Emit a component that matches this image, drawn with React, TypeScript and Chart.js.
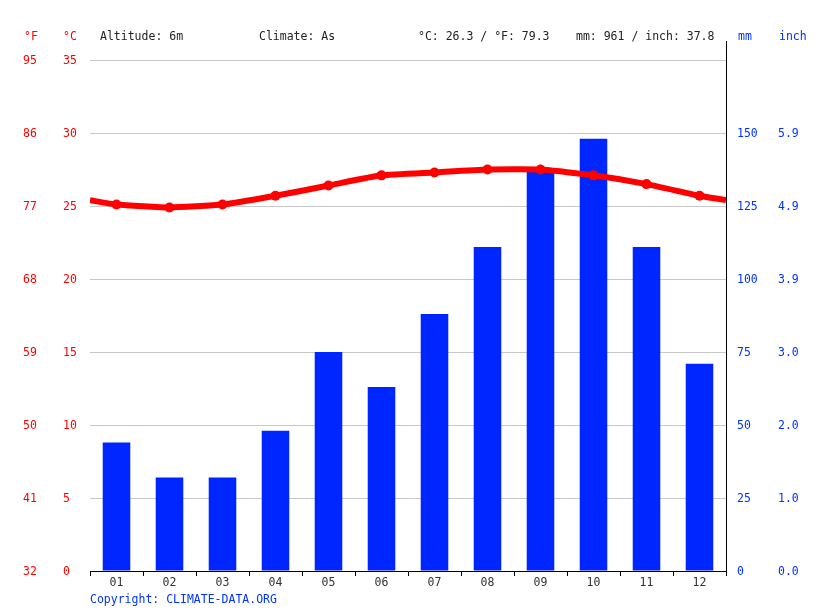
import { useEffect, useRef } from "react"
import { Chart, registerables } from "chart.js"

Chart.register(...registerables)

// valores
const months = ["01", "02", "03", "04", "05", "06", "07", "08", "09", "10", "11", "12"]
const precipitationMm = [44, 32, 32, 48, 75, 63, 88, 111, 138, 148, 111, 71]
const temperatureC = [25.1, 24.9, 25.1, 25.7, 26.4, 27.1, 27.3, 27.5, 27.5, 27.1, 26.5, 25.7]

const fahrenheitTicks = ["32", "41", "50", "59", "68", "77", "86", "95"]
const mmTicks = ["0", "25", "50", "75", "100", "125", "150"]
const inchTicks = ["0.0", "1.0", "2.0", "3.0", "3.9", "4.9", "5.9"]

const headerLabels = [
  { text: "°F", x: 24, color: "#ff0000" },
  { text: "°C", x: 63, color: "#ff0000" },
  { text: "Altitude: 6m", x: 100, color: "#222" },
  { text: "Climate: As", x: 259, color: "#222" },
  { text: "°C: 26.3 / °F: 79.3", x: 418, color: "#222" },
  { text: "mm: 961 / inch: 37.8", x: 576, color: "#222" },
  { text: "mm", x: 738, color: "#0033ff" },
  { text: "inch", x: 779, color: "#0033ff" },
]

const FONT = "'DejaVu Sans Mono', monospace"
const RED = "#ff0000"
const BLUE = "#0026ff"

const textPlugin = {
  id: "climateText",
  afterDraw(chart: Chart) {
    const { ctx, chartArea } = chart
    ctx.save()
    ctx.font = `11.5px ${FONT}`
    ctx.textBaseline = "middle"
    ctx.textAlign = "left"
    headerLabels.forEach((l) => {
      ctx.fillStyle = l.color
      ctx.fillText(l.text, l.x, 37)
    })
    ctx.fillStyle = "#0033ff"
    ctx.fillText("Copyright: CLIMATE-DATA.ORG", chartArea.left, 600)
    // prolongamento do eixo direito
    ctx.strokeStyle = "#000"
    ctx.lineWidth = 1
    ctx.beginPath()
    ctx.moveTo(chartArea.right + 0.5, 41)
    ctx.lineTo(chartArea.right + 0.5, chartArea.top)
    ctx.stroke()
    ctx.restore()
  },
}

export default function App() {
  const chartRef = useRef<HTMLCanvasElement>(null)
  const chartInstance = useRef<Chart | null>(null)

  useEffect(() => {
    if (!chartRef.current) return
    if (chartInstance.current) chartInstance.current.destroy()

    // linha vai até as bordas, ligando dezembro a janeiro
    const edge = (temperatureC[0] + temperatureC[11]) / 2
    const linePoints = [
      { x: 0, y: edge },
      ...temperatureC.map((t, i) => ({ x: i + 0.5, y: t })),
      { x: 12, y: edge },
    ]

    Chart.defaults.font.family = FONT
    Chart.defaults.font.size = 11.5

    const ctx = chartRef.current.getContext("2d")
    if (!ctx) return
    chartInstance.current = new Chart(ctx, {
      type: "bar",
      data: {
        labels: months,
        datasets: [
          {
            type: "line",
            label: "°C",
            data: linePoints as any,
            xAxisID: "xLine",
            yAxisID: "y",
            borderColor: RED,
            backgroundColor: RED,
            borderWidth: 6,
            pointRadius: linePoints.map((_, i) => (i === 0 || i === linePoints.length - 1 ? 0 : 5)),
            pointBorderWidth: 0,
            tension: 0.15,
            order: 0,
          },
          {
            type: "bar",
            label: "mm",
            data: precipitationMm,
            xAxisID: "x",
            yAxisID: "yMm",
            backgroundColor: BLUE,
            barPercentage: 0.52,
            categoryPercentage: 1,
            grouped: false,
            order: 1,
          },
        ],
      },
      options: {
        responsive: false,
        animation: false,
        layout: { padding: { left: 23, top: 60, right: 0, bottom: 0 } },
        plugins: {
          legend: { display: false },
          tooltip: { enabled: false },
        },
        scales: {
          x: {
            type: "category",
            offset: true,
            grid: {
              offset: true,
              drawOnChartArea: false,
              drawTicks: true,
              tickLength: 5,
              color: "#000",
            },
            border: { display: true, color: "#000" },
            ticks: { color: "#333", padding: 0, font: { family: FONT, size: 11.5 } },
            afterFit: (s: any) => {
              s.height = 40
            },
          },
          xLine: {
            type: "linear",
            min: 0,
            max: 12,
            offset: false,
            display: false,
          },
          y: {
            position: "left",
            weight: 0,
            min: 0,
            max: 35,
            ticks: {
              stepSize: 5,
              color: RED,
              crossAlign: "far",
              padding: 0,
              labelOffset: 1,
              font: { family: FONT, size: 11.5 },
            },
            grid: { color: "#c8c8c8", drawTicks: false },
            border: { display: false },
            afterFit: (s: any) => {
              s.width = 27
            },
          },
          yF: {
            position: "left",
            weight: 1,
            min: 0,
            max: 35,
            ticks: {
              stepSize: 5,
              color: RED,
              crossAlign: "far",
              padding: 0,
              labelOffset: 1,
              font: { family: FONT, size: 11.5 },
              callback: (_v: any, i: number) => fahrenheitTicks[i] ?? "",
            },
            grid: { display: false, drawTicks: false },
            border: { display: false },
            afterFit: (s: any) => {
              s.width = 40
            },
          },
          yMm: {
            position: "right",
            weight: 0,
            min: 0,
            max: 175,
            ticks: {
              stepSize: 25,
              color: "#0033ff",
              crossAlign: "near",
              padding: 11,
              labelOffset: 1,
              font: { family: FONT, size: 11.5 },
              callback: (_v: any, i: number) => mmTicks[i] ?? "",
            },
            grid: { display: true, drawOnChartArea: false, drawTicks: false },
            border: { display: true, color: "#000" },
            afterFit: (s: any) => {
              s.width = 52
            },
          },
          yIn: {
            position: "right",
            weight: 1,
            min: 0,
            max: 175,
            ticks: {
              stepSize: 25,
              color: "#0033ff",
              crossAlign: "near",
              padding: 0,
              labelOffset: 1,
              font: { family: FONT, size: 11.5 },
              callback: (_v: any, i: number) => inchTicks[i] ?? "",
            },
            grid: { display: false, drawTicks: false },
            border: { display: false },
            afterFit: (s: any) => {
              s.width = 37
            },
          },
        },
      },
      plugins: [textPlugin],
    })

    return () => {
      if (chartInstance.current) {
        chartInstance.current.destroy()
        chartInstance.current = null
      }
    }
  }, [])

  return (
    <div style={{ position: "fixed", left: 0, top: 0, width: 815, height: 611, background: "#fff" }}>
      <canvas ref={chartRef} width={815} height={611} style={{ display: "block" }}></canvas>
    </div>
  )
}
